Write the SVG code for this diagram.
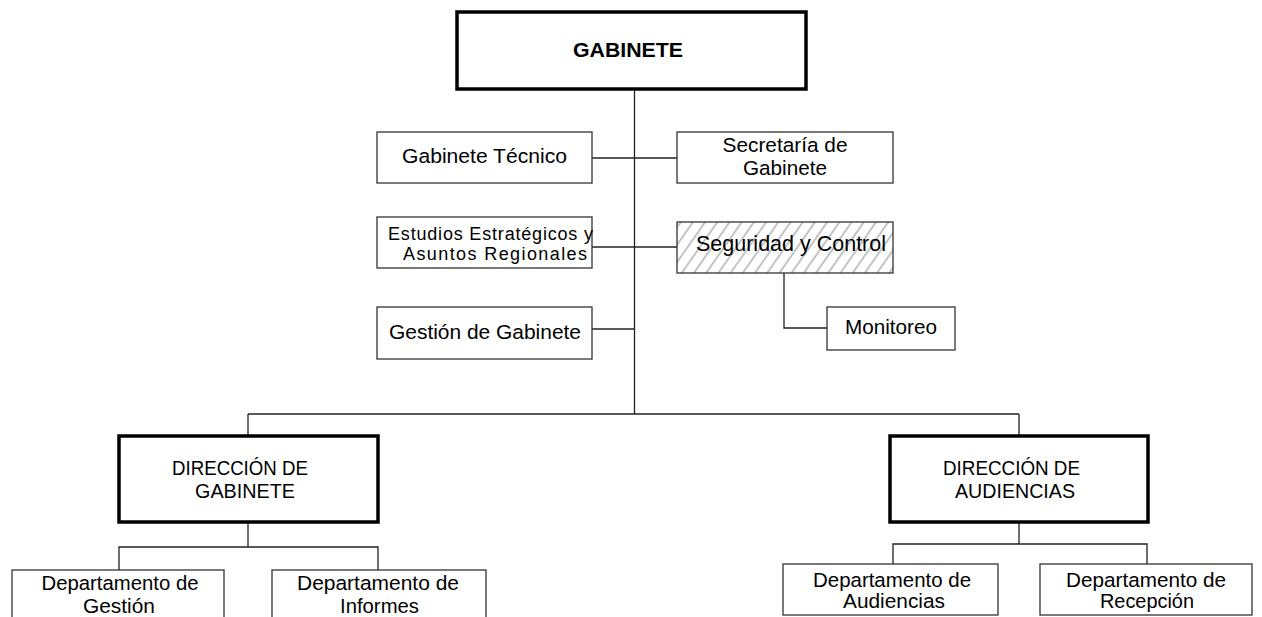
<svg xmlns="http://www.w3.org/2000/svg" width="1262" height="617" viewBox="0 0 1262 617">
<style>
.box{fill:#fff;stroke:#333;stroke-width:1.3}
.thick{fill:#fff;stroke:#000;stroke-width:3.5}
.hatch{fill:url(#hatch);stroke:#333;stroke-width:1.3}
.t{font-family:"Liberation Sans",Arial,sans-serif;font-size:20.5px;fill:#000;text-anchor:middle}
.s{font-size:18px}
.b{font-weight:bold}
.conn line,.conn polyline{stroke:#222;stroke-width:1.3;fill:none}
</style>
<defs>
<pattern id="hatch" patternUnits="userSpaceOnUse" width="10" height="10" patternTransform="rotate(35)">
<rect width="10" height="10" fill="#fff"/>
<line x1="5" y1="0" x2="5" y2="10" stroke="#8a8a8a" stroke-width="1"/>
</pattern>
</defs>
<rect width="1262" height="617" fill="#fff"/>
<g id="connectors" class="conn">
<line x1="634.5" y1="89" x2="634.5" y2="414"/>
<line x1="592" y1="158" x2="677" y2="158"/>
<line x1="592" y1="247" x2="677" y2="247"/>
<line x1="592" y1="329" x2="634.5" y2="329"/>
<polyline points="784,273 784,328 827,328"/>
<line x1="248" y1="414" x2="1019" y2="414"/>
<line x1="248" y1="414" x2="248" y2="436"/>
<line x1="1019" y1="414" x2="1019" y2="436"/>
<line x1="248" y1="522" x2="248" y2="547"/>
<polyline points="119,570 119,547 378,547 378,570"/>
<line x1="1019" y1="522" x2="1019" y2="544"/>
<polyline points="893,564 893,544 1147,544 1147,564"/>
</g>
<g id="gabinete">
<rect class="thick" x="457" y="12" width="349" height="77"/>
<text class="t b" x="628" y="57" style="font-size:21px" textLength="110" lengthAdjust="spacingAndGlyphs">GABINETE</text>
</g>
<g id="gabinete-tecnico">
<rect class="box" x="377" y="132" width="215" height="51"/>
<text class="t" x="484.5" y="163" textLength="165" lengthAdjust="spacingAndGlyphs">Gabinete Técnico</text>
</g>
<g id="secretaria">
<rect class="box" x="677" y="132" width="216" height="51"/>
<text class="t" x="785" y="152" textLength="125" lengthAdjust="spacingAndGlyphs">Secretaría de</text>
<text class="t" x="785" y="175" textLength="84" lengthAdjust="spacingAndGlyphs">Gabinete</text>
</g>
<g id="estudios">
<rect class="box" x="377" y="217" width="215" height="51"/>
<text class="t s" x="490.5" y="240" textLength="205">Estudios Estratégicos y</text>
<text class="t s" x="495" y="260" textLength="184">Asuntos Regionales</text>
</g>
<g id="seguridad">
<rect class="hatch" x="677" y="222" width="216" height="51"/>
<text class="t" x="791" y="251" style="font-size:21.5px" textLength="190" lengthAdjust="spacingAndGlyphs">Seguridad y Control</text>
</g>
<g id="monitoreo">
<rect class="box" x="827" y="307" width="128" height="43"/>
<text class="t" x="891" y="334" textLength="92" lengthAdjust="spacingAndGlyphs">Monitoreo</text>
</g>
<g id="gestion-gabinete">
<rect class="box" x="377" y="307" width="215" height="52"/>
<text class="t" x="485" y="339" textLength="192" lengthAdjust="spacingAndGlyphs">Gestión de Gabinete</text>
</g>
<g id="direccion-gabinete">
<rect class="thick" x="119" y="436" width="259" height="86"/>
<text class="t" x="240" y="475" style="font-size:21px" textLength="136" lengthAdjust="spacingAndGlyphs">DIRECCIÓN DE</text>
<text class="t" x="245" y="498" style="font-size:21px" textLength="100" lengthAdjust="spacingAndGlyphs">GABINETE</text>
</g>
<g id="direccion-audiencias">
<rect class="thick" x="890" y="436" width="258" height="86"/>
<text class="t" x="1011.5" y="475" style="font-size:21px" textLength="137" lengthAdjust="spacingAndGlyphs">DIRECCIÓN DE</text>
<text class="t" x="1015" y="498" style="font-size:21px" textLength="120" lengthAdjust="spacingAndGlyphs">AUDIENCIAS</text>
</g>
<g id="depto-gestion">
<rect class="box" x="12" y="570" width="212" height="60"/>
<text class="t" x="120" y="590" textLength="157" lengthAdjust="spacingAndGlyphs">Departamento de</text>
<text class="t" x="119" y="613" textLength="72" lengthAdjust="spacingAndGlyphs">Gestión</text>
</g>
<g id="depto-informes">
<rect class="box" x="272" y="570" width="214" height="60"/>
<text class="t" x="378" y="590" textLength="162" lengthAdjust="spacingAndGlyphs">Departamento de</text>
<text class="t" x="379.5" y="613" textLength="79" lengthAdjust="spacingAndGlyphs">Informes</text>
</g>
<g id="depto-audiencias">
<rect class="box" x="783" y="564" width="215" height="51"/>
<text class="t" x="892" y="587" textLength="158" lengthAdjust="spacingAndGlyphs">Departamento de</text>
<text class="t" x="894" y="608" textLength="102" lengthAdjust="spacingAndGlyphs">Audiencias</text>
</g>
<g id="depto-recepcion">
<rect class="box" x="1040" y="564" width="212" height="51"/>
<text class="t" x="1146" y="587" textLength="160" lengthAdjust="spacingAndGlyphs">Departamento de</text>
<text class="t" x="1147" y="608" textLength="94" lengthAdjust="spacingAndGlyphs">Recepción</text>
</g>
</svg>
